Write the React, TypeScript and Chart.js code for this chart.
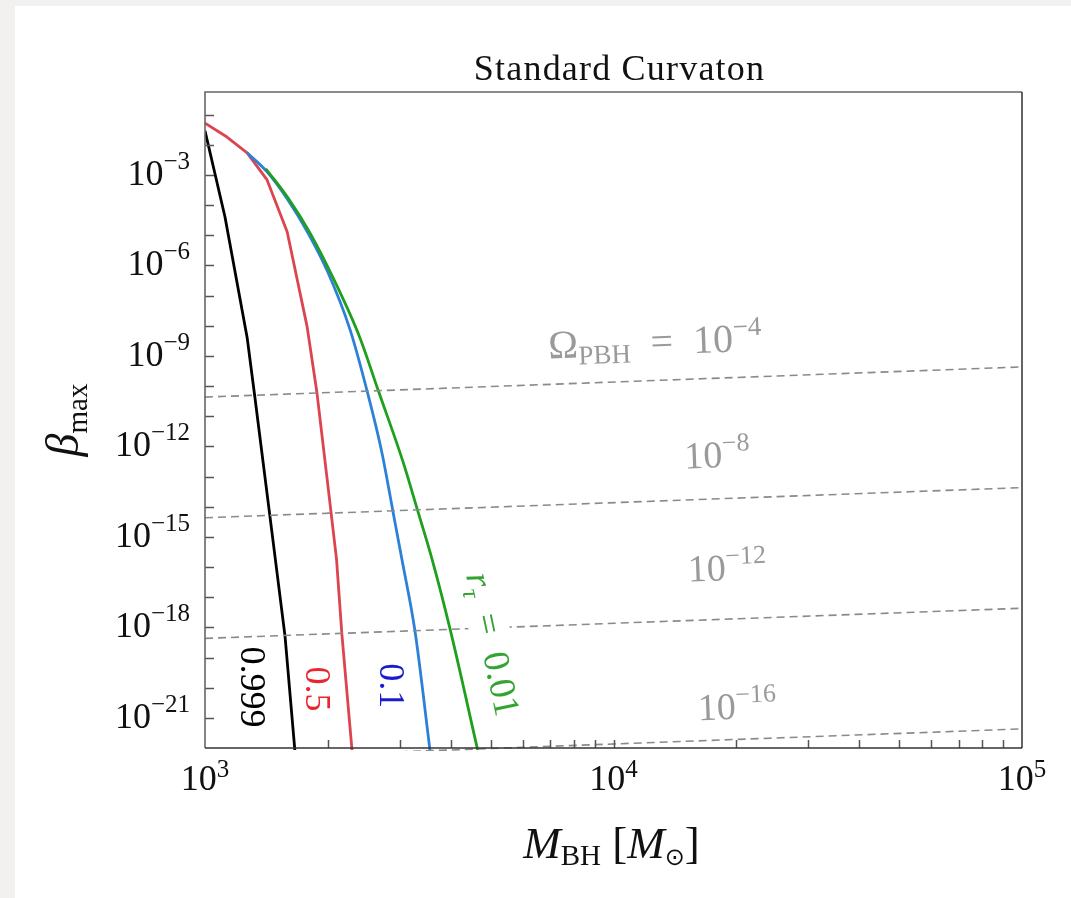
import React, { useEffect, useRef } from "react";
import { Chart, registerables } from "chart.js";

Chart.register(...registerables);

// ---------------- data ----------------
const massBlack = [1000, 1119, 1268, 1324, 1442, 1570, 1660];
const betaBlack = [2.9e-2, 4.1e-5, 4.1e-9, 4.5e-11, 4.8e-15, 5.1e-19, 8e-23];

const massRed = [1000, 1132, 1268, 1419, 1589, 1778, 1879, 2000, 2099, 2163, 2291];
const betaRed = [5.2e-2, 1.8e-2, 5.4e-3, 6.8e-4, 1.3e-5, 9.3e-9, 6.2e-11, 4.8e-14, 1.8e-16, 6.0e-19, 8e-23];

const massBlue = [1268, 1419, 1596, 1786, 2000, 2265, 2495, 2710, 2884, 3034, 3266, 3556];
const betaBlue = [5.4e-3, 1.26e-3, 1.48e-4, 1.2e-5, 5.8e-7, 7.4e-9, 6.6e-11, 6.3e-13, 7.1e-15, 1.8e-16, 7.6e-19, 8e-23];

const massGreen = [1409, 1596, 1807, 2080, 2393, 2649, 3055, 3319, 3597, 3981, 4656];
const betaGreen = [1.6e-3, 1.74e-4, 1.2e-5, 2.9e-7, 4.1e-9, 7.8e-11, 3.0e-13, 7.1e-15, 1.8e-16, 8.7e-19, 8e-23];

const omegaMass = [1e3, 1e5];
const omegaBeta4 = [4.3e-11, 4.3e-10];
const omegaBeta8 = [4.3e-15, 4.3e-14];
const omegaBeta12 = [4.3e-19, 4.3e-18];
const omegaBeta16 = [4.3e-23, 4.3e-22];

const xMin = 1e3;
const xMax = 1e5;
const yMin = 1e-22;
const yMax = 0.56;

const xLabelExponents = [3, 4, 5];
const yLabelExponents = [-3, -6, -9, -12, -15, -18, -21];
const yTickExponents = [-21, -20, -19, -18, -17, -16, -15, -14, -13, -12, -11, -10, -9, -8, -7, -6, -5, -4, -3, -2, -1];
const xTicks = [2000, 3000, 4000, 5000, 6000, 7000, 8000, 9000, 10000, 20000, 30000, 40000, 50000, 60000, 70000, 80000, 90000];

const titleText = "Standard Curvaton";

// ---------------- drawing helpers ----------------
const SERIF = '"Liberation Serif", "Times New Roman", serif';

type Seg = { t: string; size: number; italic?: boolean; dy?: number; family?: string };

function fontOf(s: Seg) {
  return `${s.italic ? "italic " : ""}${s.size}px ${s.family ?? SERIF}`;
}

function richWidth(ctx: CanvasRenderingContext2D, segs: Seg[]) {
  let w = 0;
  for (const s of segs) {
    ctx.font = fontOf(s);
    w += ctx.measureText(s.t).width;
  }
  return w;
}

function drawRich(
  ctx: CanvasRenderingContext2D,
  segs: Seg[],
  x: number,
  y: number,
  align: "left" | "center" | "right",
  color: string,
  angle = 0,
  vshift = 0,
  box = false
) {
  ctx.save();
  ctx.translate(x, y);
  ctx.rotate(angle);
  const w = richWidth(ctx, segs);
  let cx = align === "center" ? -w / 2 : align === "right" ? -w : 0;
  if (box) {
    ctx.fillStyle = "#ffffff";
    const h = segs[0].size * 1.1;
    ctx.fillRect(cx - 4, vshift - h * 0.78, w + 8, h);
  }
  ctx.fillStyle = color;
  ctx.textAlign = "left";
  ctx.textBaseline = "alphabetic";
  for (const s of segs) {
    ctx.font = fontOf(s);
    ctx.fillText(s.t, cx, vshift + (s.dy ?? 0));
    cx += ctx.measureText(s.t).width;
  }
  ctx.restore();
}

const pow10 = (e: number, big: number, small: number, rise: number): Seg[] => [
  { t: "10", size: big },
  { t: (e < 0 ? "\u2212" : "") + Math.abs(e), size: small, dy: -rise },
];

// label anchors in data space
const curveLabels = [
  { segs: [{ t: "0.999", size: 36 }] as Seg[], mass: 1311, beta: 1.06e-20, color: "#000000", angle: 90, box: false },
  { segs: [{ t: "0.5", size: 36 }] as Seg[], mass: 1891, beta: 9.1e-21, color: "#e8262e", angle: 90, box: false },
  { segs: [{ t: "0.1", size: 36 }] as Seg[], mass: 2870, beta: 1.15e-20, color: "#1a1ad0", angle: 90, box: false },
  {
    segs: [
      { t: "r", size: 37, italic: true },
      { t: "\u03c4", size: 25, italic: true, dy: 7 },
      { t: "\u2002=\u20020.01", size: 37 },
    ] as Seg[],
    mass: 5070,
    beta: 2.8e-19,
    color: "#33a333",
    angle: 78,
    box: true,
  },
];

const omegaLabels = [
  {
    segs: [
      { t: "\u03a9", size: 40 },
      { t: "PBH", size: 27, dy: 7 },
      { t: "\u2002=\u200210", size: 40 },
      { t: "\u22124", size: 27, dy: -16 },
    ] as Seg[],
    mass: 12636,
    beta: 2.98e-9,
  },
  { segs: pow10(-8, 38, 26, 16), mass: 17923, beta: 5.43e-13 },
  { segs: pow10(-12, 38, 26, 16), mass: 18960, beta: 9.9e-17 },
  { segs: pow10(-16, 38, 26, 16), mass: 20060, beta: 2.5e-21 },
];

const decor = {
  id: "decor",
  afterDatasetsDraw(chart: any) {
    const ctx: CanvasRenderingContext2D = chart.ctx;
    const { left, right, top, bottom } = chart.chartArea;
    const xs = chart.scales.x;
    const ys = chart.scales.y;
    ctx.save();

    // ticks (inside)
    ctx.strokeStyle = "#555555";
    ctx.lineWidth = 1.5;
    ctx.beginPath();
    for (const e of yTickExponents) {
      const py = Math.round(ys.getPixelForValue(Math.pow(10, e))) + 0.5;
      ctx.moveTo(left, py);
      ctx.lineTo(left + 9, py);
    }
    for (const m of xTicks) {
      const px = Math.round(xs.getPixelForValue(m)) + 0.5;
      ctx.moveTo(px, bottom);
      ctx.lineTo(px, bottom - 8);
    }
    ctx.stroke();

    // frame
    ctx.lineWidth = 1.6;
    ctx.strokeStyle = "#666666";
    ctx.beginPath();
    ctx.moveTo(left, bottom);
    ctx.lineTo(left, top);
    ctx.lineTo(right, top);
    ctx.stroke();
    ctx.strokeStyle = "#333333";
    ctx.beginPath();
    ctx.moveTo(left, bottom);
    ctx.lineTo(right, bottom);
    ctx.stroke();
    ctx.strokeStyle = "#111111";
    ctx.lineWidth = 1.3;
    ctx.beginPath();
    ctx.moveTo(right, top);
    ctx.lineTo(right, bottom);
    ctx.stroke();

    // tick labels
    for (const e of yLabelExponents) {
      const py = ys.getPixelForValue(Math.pow(10, e));
      drawRich(ctx, pow10(e, 36, 25, 16), left - 15, py + 10, "right", "#111111");
    }
    for (const e of xLabelExponents) {
      const px = xs.getPixelForValue(Math.pow(10, e));
      drawRich(ctx, pow10(e, 36, 25, 13), px, bottom + 42, "center", "#111111");
    }

    // title
    ctx.save();
    (ctx as any).letterSpacing = "1.2px";
    drawRich(ctx, [{ t: titleText, size: 36 }], (left + right) / 2 + 6, top - 12, "center", "#111111");
    ctx.restore();

    // x axis title
    drawRich(
      ctx,
      [
        { t: "M", size: 45, italic: true },
        { t: "BH", size: 29, dy: 7 },
        { t: " [", size: 45 },
        { t: "M", size: 45, italic: true },
        { t: "\u2299", size: 24, dy: 7, family: '"DejaVu Sans", sans-serif' },
        { t: "]", size: 45 },
      ],
      (left + right) / 2 - 2,
      bottom + 110,
      "center",
      "#111111"
    );

    // y axis title
    drawRich(
      ctx,
      [
        { t: "\u03b2", size: 46, italic: true },
        { t: "max", size: 29, dy: 9 },
      ],
      left - 127,
      (top + bottom) / 2,
      "center",
      "#111111",
      -Math.PI / 2
    );

    // Omega contour labels
    const ang = Math.atan2(
      ys.getPixelForValue(omegaBeta4[1]) - ys.getPixelForValue(omegaBeta4[0]),
      xs.getPixelForValue(omegaMass[1]) - xs.getPixelForValue(omegaMass[0])
    );
    for (const l of omegaLabels) {
      drawRich(ctx, l.segs, xs.getPixelForValue(l.mass), ys.getPixelForValue(l.beta), "center", "#9a9a9a", ang, 13);
    }

    // curve labels
    for (const l of curveLabels) {
      drawRich(
        ctx,
        l.segs,
        xs.getPixelForValue(l.mass),
        ys.getPixelForValue(l.beta),
        "center",
        l.color,
        (l.angle * Math.PI) / 180,
        12,
        l.box
      );
    }

    ctx.restore();
  },
};

const toPts = (xs: number[], ys: number[]) => xs.map((x, i) => ({ x, y: ys[i] }));

export default function App() {
  const ref = useRef<HTMLCanvasElement>(null);

  useEffect(() => {
    const canvas = ref.current!;
    const dashed = (data: number[]) => ({
      data: toPts(omegaMass, data),
      borderColor: "#8a8a8a",
      borderWidth: 1.6,
      borderDash: [8, 5],
      pointRadius: 0,
      fill: false,
      tension: 0,
      clip: { left: 0, top: 0, right: 5, bottom: 3 },
    });
    const curve = (mx: number[], by: number[], color: string, smooth: boolean) => ({
      data: toPts(mx, by),
      borderColor: color,
      borderWidth: 2.8,
      pointRadius: 0,
      fill: false,
      tension: 0,
      cubicInterpolationMode: smooth ? ("monotone" as const) : ("default" as const),
      borderJoinStyle: "round" as const,
      clip: { left: 0, top: 0, right: 0, bottom: 2 },
    });
    const chart = new Chart(canvas, {
      type: "line",
      data: {
        datasets: [
          dashed(omegaBeta4),
          dashed(omegaBeta8),
          dashed(omegaBeta12),
          dashed(omegaBeta16),
          curve(massGreen, betaGreen, "#1ea01e", true),
          curve(massBlue, betaBlue, "#2d80d8", true),
          curve(massRed, betaRed, "#dc4450", false),
          curve(massBlack, betaBlack, "#000000", false),
        ] as any,
      },
      options: {
        animation: false,
        responsive: false,
        devicePixelRatio: 1,
        events: [],
        layout: { padding: { left: 190, top: 86, right: 49, bottom: 150 } },
        plugins: {
          legend: { display: false },
          tooltip: { enabled: false },
          title: { display: false },
        },
        scales: {
          x: { type: "logarithmic", min: xMin, max: xMax, display: false },
          y: { type: "logarithmic", min: yMin, max: yMax, display: false },
        },
      },
      plugins: [decor],
    });
    return () => chart.destroy();
  }, []);

  return (
    <div
      style={{
        position: "absolute",
        left: 0,
        top: 0,
        width: 1071,
        height: 898,
        background: "#f2f1ef",
        overflow: "hidden",
      }}
    >
      <div
        style={{
          position: "absolute",
          left: 15,
          top: 6,
          width: 1056,
          height: 892,
          background: "#ffffff",
        }}
      >
        <canvas ref={ref} width={1056} height={892} style={{ display: "block" }} />
      </div>
    </div>
  );
}
